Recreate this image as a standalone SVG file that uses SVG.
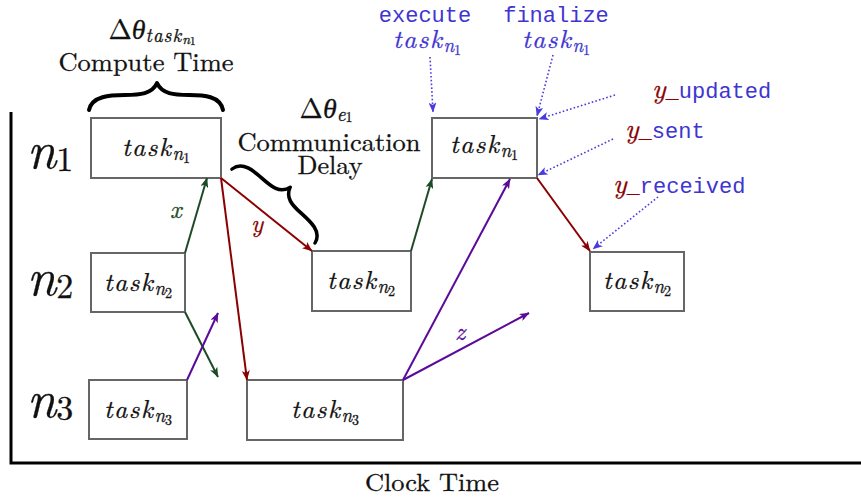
<svg xmlns="http://www.w3.org/2000/svg" width="861" height="499" viewBox="0 0 861 499">
<style>
.box{fill:#fff;stroke:#666;stroke-width:2}
.serif{font-family:"Latin Modern Roman","CMU Serif","Liberation Serif","Noto Serif","DejaVu Serif","Times New Roman",Times,serif;fill:#111;stroke:#111;stroke-width:0.3}
.it{font-style:italic}
.task{font-family:"Latin Modern Roman","CMU Serif","Liberation Serif","Noto Serif","DejaVu Serif","Times New Roman",Times,serif;font-style:italic;font-size:26px;fill:#111;stroke:#111;stroke-width:0.3}
.tk{letter-spacing:1.5px}
.s1{font-size:19px}
.s2{font-size:14px;font-style:normal}
.mono{font-family:"Liberation Mono","Courier New",monospace;font-size:22px;fill:#4035d0}
.lr{stroke:#8b0000;stroke-width:2;fill:none;marker-end:url(#ar)}
.lg{stroke:#1e4a28;stroke-width:2;fill:none;marker-end:url(#ag)}
.lp{stroke:#5b0a99;stroke-width:2;fill:none;marker-end:url(#ap)}
.lb{stroke:#4a3be0;stroke-width:1.6;stroke-dasharray:1.6 2.2;fill:none;marker-end:url(#ab)}
.brace{fill:none;stroke:#000;stroke-width:4;stroke-linecap:round;stroke-linejoin:round}
</style>
<defs>
<marker id="ar" viewBox="0 0 10 8" refX="9.5" refY="4" markerWidth="10" markerHeight="8" markerUnits="userSpaceOnUse" orient="auto"><path d="M0,0 L10,4 L0,8 L2.5,4 z" fill="#8b0000"/></marker>
<marker id="ag" viewBox="0 0 10 8" refX="9.5" refY="4" markerWidth="10" markerHeight="8" markerUnits="userSpaceOnUse" orient="auto"><path d="M0,0 L10,4 L0,8 L2.5,4 z" fill="#1e4a28"/></marker>
<marker id="ap" viewBox="0 0 10 8" refX="9.5" refY="4" markerWidth="10" markerHeight="8" markerUnits="userSpaceOnUse" orient="auto"><path d="M0,0 L10,4 L0,8 L2.5,4 z" fill="#5b0a99"/></marker>
<marker id="ab" viewBox="0 0 10 8" refX="9.5" refY="4" markerWidth="10" markerHeight="8" markerUnits="userSpaceOnUse" orient="auto"><path d="M0,0 L10,4 L0,8 L2.5,4 z" fill="#4a3be0"/></marker>
</defs>

<g id="axes">
<path d="M11,112 L11,463 L861,463" fill="none" stroke="#000" stroke-width="3"/>
<text class="serif" x="432" y="491" font-size="25" text-anchor="middle" textLength="134" lengthAdjust="spacingAndGlyphs">Clock Time</text>
</g>

<g id="row-labels">
<text class="serif" x="27" y="168" font-size="52"><tspan class="it">n</tspan><tspan font-size="34" dy="3">1</tspan></text>
<text class="serif" x="27" y="295" font-size="52"><tspan class="it">n</tspan><tspan font-size="34" dy="3">2</tspan></text>
<text class="serif" x="27" y="417" font-size="52"><tspan class="it">n</tspan><tspan font-size="34" dy="3">3</tspan></text>
</g>

<g id="compute-time">
<path class="brace" d="M89,110 C92,96 110,95 125,95 C140,95 152,94 157,83 C162,94 174,95 189,95 C204,95 220,96 223,110"/>
<text class="serif" x="152" y="39" font-size="28" text-anchor="middle">Δ<tspan class="it">θ</tspan><tspan class="it" font-size="19" dy="3" letter-spacing="1">task</tspan><tspan class="it" font-size="14" dy="2">n</tspan><tspan font-size="11" dy="1">1</tspan></text>
<text class="serif" x="146" y="71" font-size="26" text-anchor="middle" textLength="175" lengthAdjust="spacingAndGlyphs">Compute Time</text>
</g>

<g id="comm-delay">
<path class="brace" transform="translate(232,169) rotate(41.7) scale(0.83,0.93)" d="M0,0 C3,-14 21,-14 36,-14 C51,-14 63,-15 67,-27 C71,-15 83,-14 98,-14 C113,-14 131,-14 134,0"/>
<text class="serif" x="326" y="118" font-size="28" text-anchor="middle">Δ<tspan class="it">θ</tspan><tspan class="it" font-size="19" dy="3">e</tspan><tspan font-size="14" dy="1">1</tspan></text>
<text class="serif" x="329" y="151" font-size="26" text-anchor="middle" textLength="183" lengthAdjust="spacingAndGlyphs">Communication</text>
<text class="serif" x="330" y="174" font-size="26" text-anchor="middle" textLength="65" lengthAdjust="spacingAndGlyphs">Delay</text>
</g>

<g id="task-n1-a">
<rect class="box" x="91" y="118" width="130" height="60"/>
<text class="task" x="156" y="156" text-anchor="middle"><tspan class="tk">task</tspan><tspan class="s1" dy="4">n</tspan><tspan class="s2" dy="3">1</tspan></text>
</g>
<g id="task-n2-a">
<rect class="box" x="91" y="253" width="94" height="59"/>
<text class="task" x="138" y="291" text-anchor="middle"><tspan class="tk">task</tspan><tspan class="s1" dy="4">n</tspan><tspan class="s2" dy="3">2</tspan></text>
</g>
<g id="task-n3-a">
<rect class="box" x="89" y="380" width="98" height="59"/>
<text class="task" x="138" y="418" text-anchor="middle"><tspan class="tk">task</tspan><tspan class="s1" dy="4">n</tspan><tspan class="s2" dy="3">3</tspan></text>
</g>
<g id="task-n3-b">
<rect class="box" x="247" y="380" width="156" height="60"/>
<text class="task" x="325" y="418" text-anchor="middle"><tspan class="tk">task</tspan><tspan class="s1" dy="4">n</tspan><tspan class="s2" dy="3">3</tspan></text>
</g>
<g id="task-n2-b">
<rect class="box" x="312" y="251" width="99" height="60"/>
<text class="task" x="361" y="289" text-anchor="middle"><tspan class="tk">task</tspan><tspan class="s1" dy="4">n</tspan><tspan class="s2" dy="3">2</tspan></text>
</g>
<g id="task-n1-b">
<rect class="box" x="432" y="118" width="105" height="60"/>
<text class="task" x="484" y="153" text-anchor="middle"><tspan class="tk">task</tspan><tspan class="s1" dy="4">n</tspan><tspan class="s2" dy="3">1</tspan></text>
</g>
<g id="task-n2-c">
<rect class="box" x="590" y="252" width="94" height="59"/>
<text class="task" x="637" y="289" text-anchor="middle"><tspan class="tk">task</tspan><tspan class="s1" dy="4">n</tspan><tspan class="s2" dy="3">2</tspan></text>
</g>

<g id="connectors">
<path class="lg" d="M185,253 L207,178"/>
<path class="lr" d="M221,178 L312,251"/>
<path class="lr" d="M221,178 L247,380"/>
<path class="lg" d="M185,312 L218,377"/>
<path class="lp" d="M187,380 L218,313"/>
<path class="lg" d="M411,251 L432,179"/>
<path class="lp" d="M403,380 L510,179"/>
<path class="lp" d="M403,380 L529,313"/>
<path class="lr" d="M537,178 L590,251"/>
<text class="serif it" x="170" y="218" font-size="25" style="fill:#1e4a28;stroke:#1e4a28">x</text>
<text class="serif it" x="251" y="232" font-size="25" style="fill:#8b0000;stroke:#8b0000">y</text>
<text class="serif it" x="455" y="340" font-size="25" style="fill:#5b0a99;stroke:#5b0a99">z</text>
</g>

<g id="annotations">
<text class="mono" x="425" y="22" text-anchor="middle">execute</text>
<text class="task" x="427" y="48" text-anchor="middle" style="fill:#4035d0;stroke:#4035d0"><tspan class="tk">task</tspan><tspan class="s1" dy="4">n</tspan><tspan class="s2" dy="3">1</tspan></text>
<text class="mono" x="556" y="22" text-anchor="middle">finalize</text>
<text class="task" x="556" y="48" text-anchor="middle" style="fill:#4035d0;stroke:#4035d0"><tspan class="tk">task</tspan><tspan class="s1" dy="4">n</tspan><tspan class="s2" dy="3">1</tspan></text>
<text x="652" y="98"><tspan class="serif it" font-size="28" style="fill:#8b0000;stroke:#8b0000">y</tspan><tspan class="mono" style="fill:#8b0000">_</tspan><tspan class="mono">updated</tspan></text>
<text x="625" y="138"><tspan class="serif it" font-size="28" style="fill:#8b0000;stroke:#8b0000">y</tspan><tspan class="mono" style="fill:#8b0000">_</tspan><tspan class="mono">sent</tspan></text>
<text x="613" y="193"><tspan class="serif it" font-size="28" style="fill:#8b0000;stroke:#8b0000">y</tspan><tspan class="mono" style="fill:#8b0000">_</tspan><tspan class="mono">received</tspan></text>
<path class="lb" d="M430,57 L433,112"/>
<path class="lb" d="M553,55 L537,116"/>
<path class="lb" d="M615,95 L539,119"/>
<path class="lb" d="M613,139 L538,175"/>
<path class="lb" d="M658,197 L593,249"/>
</g>
</svg>
